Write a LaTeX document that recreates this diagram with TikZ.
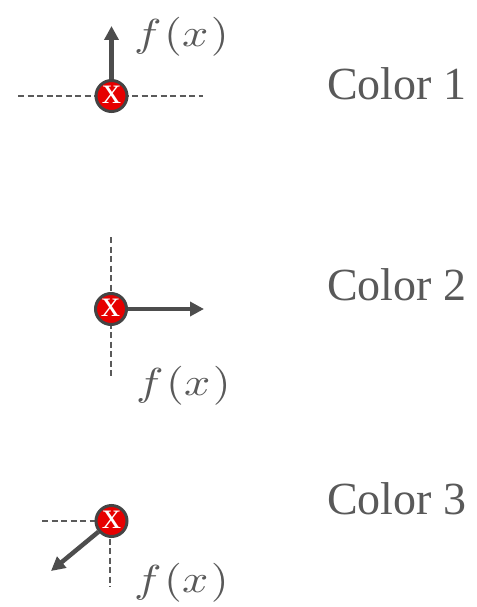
\documentclass[tikz,border=0pt]{standalone}
\usepackage{fontspec}
\setmainfont{Liberation Serif}
\usetikzlibrary{arrows.meta}
\definecolor{txtgray}{HTML}{595959}
\definecolor{arrgray}{HTML}{4D4D4D}
\definecolor{dashgray}{HTML}{5A5A5A}
\definecolor{rimgray}{HTML}{444444}
\definecolor{xred}{HTML}{E60000}
\newcommand{\fofx}{\scalebox{4.6}[3.9]{$f\mkern1mu(x\mkern1mu)$}}
\tikzset{
  xnode/.style={circle, fill=xred, draw=rimgray, line width=3pt, minimum size=31pt, inner sep=0pt,
    text=white, font=\fontsize{38}{38}\selectfont},
  dashln/.style={dashgray, line width=2.2pt, dash pattern=on 6pt off 3.5pt},
  arr/.style={arrgray, line width=4.5pt, -{Triangle[length=14pt,width=14pt]}},
  fx/.style={text=txtgray, anchor=base west, inner sep=0pt},
  colorlbl/.style={text=txtgray, anchor=base west, inner sep=0pt, font=\fontsize{46}{46}\selectfont}
}
\begin{document}
\begin{tikzpicture}[x=1pt,y=-1pt]
\useasboundingbox (0,0) rectangle (476,607);
% panel 1
\coordinate (l1) at (18,96);
\coordinate (r1) at (203,96);
\draw[dashln] (l1) -- (r1);
\node[xnode] (c1) at (111.5,96) {\raisebox{1.5pt}{x}};
\coordinate (t1) at (111.5,26);
\draw[arr] (c1) -- (t1);
\node[fx] (f1) at (134,47) {\fofx};
\node[colorlbl] (k1) at (327,100) {Color 1};
% panel 2
\coordinate (u2) at (111,237);
\coordinate (d2) at (111,379);
\draw[dashln] (u2) -- (d2);
\node[xnode] (c2) at (111,309) {\raisebox{1.5pt}{x}};
\coordinate (t2) at (204,309);
\draw[arr] (c2) -- (t2);
\node[fx] (f2) at (136,395) {\fofx};
\node[colorlbl] (k2) at (327,300) {Color 2};
% panel 3
\coordinate (l3) at (42,521);
\coordinate (m3) at (110,521);
\coordinate (d3) at (110,587);
\draw[dashln] (l3) -- (m3) -- (d3);
\node[xnode] (c3) at (111.5,521) {\raisebox{1.5pt}{x}};
\coordinate (t3) at (51,571);
\draw[arr] (c3) -- (t3);
\node[fx] (f3) at (134,592) {\fofx};
\node[colorlbl] (k3) at (327,514) {Color 3};
\end{tikzpicture}
\end{document}
